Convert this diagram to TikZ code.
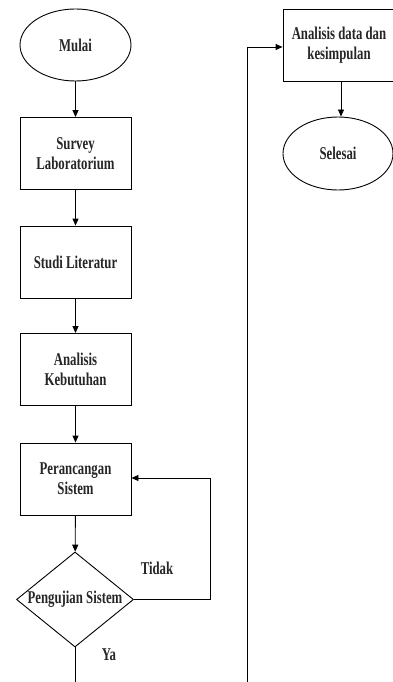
\documentclass[tikz,border=0pt]{standalone}
\usepackage{fontspec}
\setmainfont{Liberation Serif}[FakeStretch=0.71]
\usetikzlibrary{shapes.geometric,arrows.meta}
\begin{document}
\begin{tikzpicture}[x=1pt,y=-1pt,
  every node/.style={font=\bfseries\fontsize{18}{20}\selectfont, text=black!85},
  proc/.style={draw, line width=0.9pt, minimum width=111pt, minimum height=72pt, inner sep=2pt, align=center},
  term/.style={draw, line width=0.9pt, ellipse, minimum width=111pt, minimum height=72pt, inner sep=0pt, align=center},
  dec/.style={draw, line width=0.9pt, diamond, aspect=1.23, minimum width=117pt, minimum height=95pt, inner sep=0pt, align=center},
  lbl/.style={inner sep=0pt},
  flow/.style={line width=0.9pt, -{Triangle[length=7pt,width=6pt]}},
  plain/.style={line width=0.9pt}]
\useasboundingbox (0,0) rectangle (393,682);
\clip (0,0) rectangle (393,682);
\node[term] (mulai) at (75.5,45) {Mulai};
\node[proc] (survey) at (75.5,153.5) {Survey\\Laboratorium};
\node[proc] (studi) at (75.5,262) {Studi Literatur};
\node[proc] (analisis) at (75.5,369.5) {Analisis\\Kebutuhan};
\node[proc] (rancang) at (75.5,479) {Perancangan\\Sistem};
\node[dec] (uji) at (75,599.5) {Pengujian Sistem};
\node[lbl] (tidak) at (157,568) {Tidak};
\node[lbl] (ya) at (109,655) {Ya};
\coordinate (fb1) at (210,599.5);
\coordinate (fb2) at (210,478);
\coordinate (down) at (75,690);
\coordinate (up0) at (247,690);
\coordinate (up1) at (247,47);
\node[proc, minimum width=112pt] (data) at (339,45) {Analisis data dan\\kesimpulan};
\node[term, minimum width=110pt, minimum height=73pt] (selesai) at (338,153.5) {Selesai};

\draw[flow] (mulai) -- (survey);
\draw[flow] (survey) -- (studi);
\draw[flow] (studi) -- (analisis);
\draw[flow] (analisis) -- (rancang);
\draw[flow] (rancang) -- (uji);
\draw[flow] (uji.east) -- (fb1) -- (fb2) -- (rancang.east |- fb2);
\draw[plain] (uji.south) -- (down);
\draw[flow] (up0) -- (up1) -- (data.west |- up1);
\draw[flow] (data.south -| 341,0) -- (selesai.north -| 341,0);
\end{tikzpicture}
\end{document}
